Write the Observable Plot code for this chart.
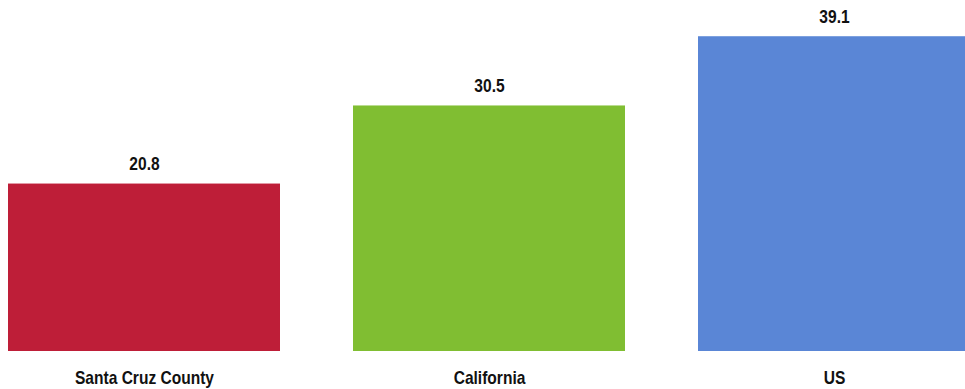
<!DOCTYPE html>
<html>
<head>
<meta charset="utf-8">
<script src="https://cdn.jsdelivr.net/npm/d3@7"></script>
<script src="https://cdn.jsdelivr.net/npm/@observablehq/plot@0.6"></script>
<style>
  html, body { margin: 0; padding: 0; background: #fff; overflow: hidden; }
  #chart svg { overflow: hidden; display: block; }
</style>
</head>
<body>
<div id="chart"></div>
<script>
const categories = ["Santa Cruz County", "California", "US"];
const values = [20.8, 30.5, 39.1];
const colors = ["#BE1E38", "#80BE32", "#5A86D6"];

const data = categories.map((c, i) => ({category: c, value: values[i], color: colors[i]}));
const font = "'Liberation Sans', Arial, sans-serif";

const chart = Plot.plot({
  width: 965,
  height: 389,
  marginTop: 0,
  marginBottom: 38,
  marginLeft: 0,
  marginRight: 0,
  style: {fontFamily: font, background: "#fff"},
  x: {domain: categories, range: [8, 970], paddingInner: 0.212, paddingOuter: 0, label: null},
  y: {domain: [0, 43.6], axis: null},
  marks: [
    Plot.barY(data, {x: "category", y: "value", fill: d => d.color}),
    Plot.text(data, {
      x: "category", y: "value", text: d => d.value.toFixed(1),
      lineAnchor: "bottom", dy: -14, fontSize: 18.5, fontWeight: "bold", fill: "#111"
    }),
    Plot.axisX({tickSize: 0, tickPadding: 19, fontSize: 18.5, fontWeight: "bold", fill: "#111", label: null})
  ]
});
document.getElementById("chart").append(chart);
// condense the bold text horizontally (narrow face look)
chart.querySelectorAll("text").forEach(t => {
  const len = t.getComputedTextLength();
  if (len > 0) {
    t.setAttribute("textLength", (len * 0.84).toFixed(1));
    t.setAttribute("lengthAdjust", "spacingAndGlyphs");
  }
});
</script>
</body>
</html>
